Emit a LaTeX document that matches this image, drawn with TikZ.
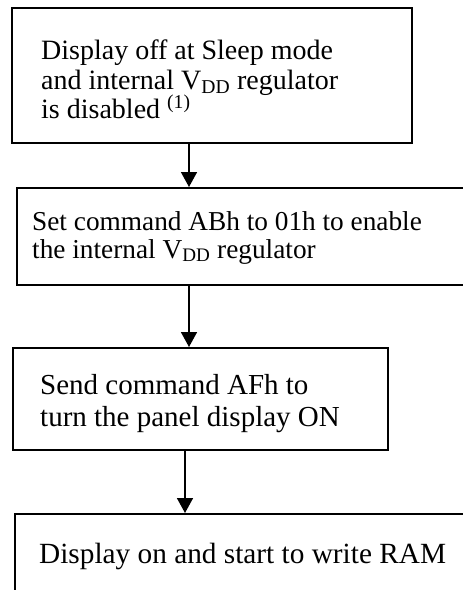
\documentclass[tikz,border=0pt]{standalone}
\usepackage{fontspec}
\setmainfont{Liberation Serif}
\usetikzlibrary{arrows.meta}
\tikzset{
  boxnode/.style={draw, line width=1.6pt, rectangle, inner sep=0pt, anchor=north west},
  txt/.style={anchor=base west, inner sep=0pt, font=\fontsize{28}{30}\selectfont},
  arr/.style={line width=1.6pt, -{Triangle[width=16pt,length=15pt]}}
}
\begin{document}
\begin{tikzpicture}[x=1pt,y=-1pt]
\path[use as bounding box, clip] (0,0) rectangle (463,590);
% boxes
\node[boxnode, minimum width=400pt, minimum height=135pt] (b1) at (11,7) {};
\node[boxnode, minimum width=470pt, minimum height=97pt] (b2) at (16,187) {};
\node[boxnode, minimum width=375pt, minimum height=102pt] (b3) at (12,347) {};
\node[boxnode, minimum width=470pt, minimum height=110pt] (b4) at (14,513) {};
% texts
\node[txt] (t1a) at (41,59) {Display off at Sleep mode};
\node[txt] (t1b) at (41,89) {and internal V\textsubscript{DD} regulator};
\node[txt] (t1c) at (41,118) {is disabled \textsuperscript{(1)}};
\node[txt, font=\fontsize{27.3}{30}\selectfont] (t2a) at (32,230) {Set command ABh to 01h to enable};
\node[txt, font=\fontsize{27.3}{30}\selectfont] (t2b) at (32,258) {the internal V\textsubscript{DD} regulator};
\node[txt, font=\fontsize{29}{30}\selectfont] (t3a) at (40,394) {Send command AFh to};
\node[txt, font=\fontsize{29}{30}\selectfont] (t3b) at (40,426) {turn the panel display ON};
\node[txt, font=\fontsize{29.3}{30}\selectfont] (t4a) at (39,563) {Display on and start to write RAM};
% arrow columns
\coordinate (c1) at (189,0);
\coordinate (c3) at (185,0);
\draw[arr] (b1.south -| c1) -- (b2.north -| c1);
\draw[arr] (b2.south -| c1) -- (b3.north -| c1);
\draw[arr] (b3.south -| c3) -- (b4.north -| c3);
\end{tikzpicture}
\end{document}
